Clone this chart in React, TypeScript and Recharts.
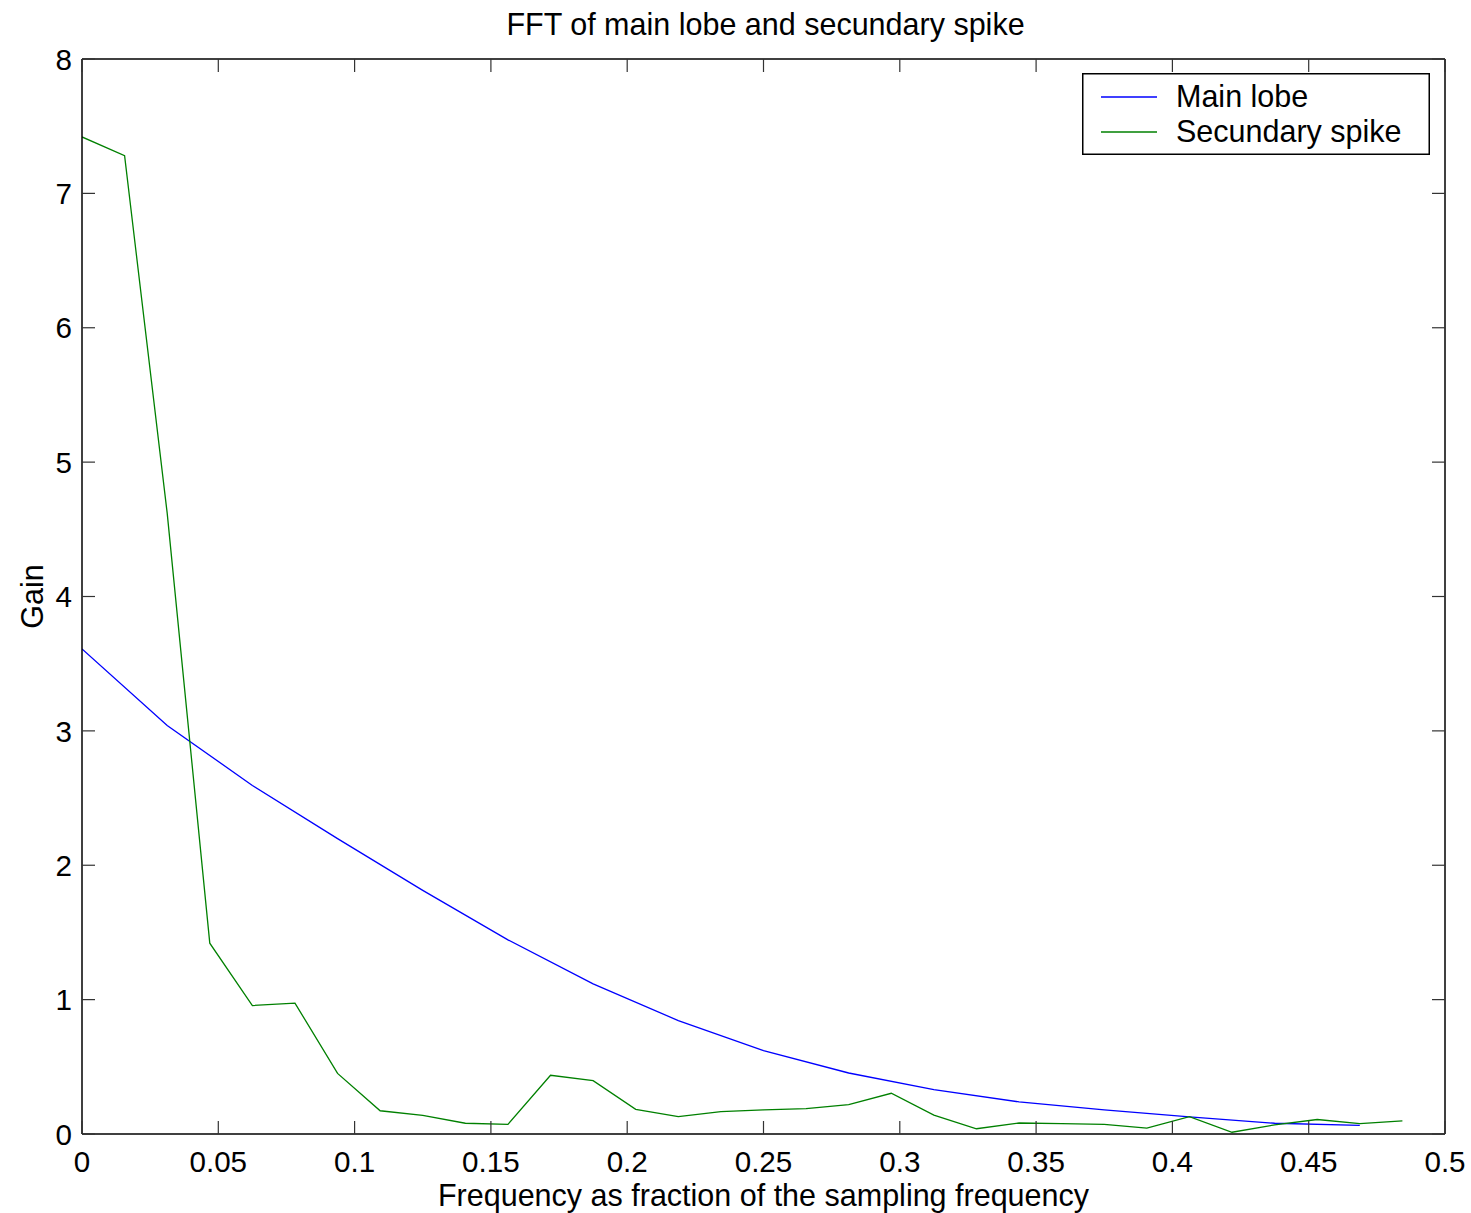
import { LineChart, Line, XAxis, YAxis, Legend } from "recharts";

/* Frequencies (fraction of the sampling frequency) */
const spikeFreq = [
  0, 0.015625, 0.03125, 0.046875, 0.0625, 0.078125, 0.09375, 0.109375,
  0.125, 0.140625, 0.15625, 0.171875, 0.1875, 0.203125, 0.21875, 0.234375,
  0.25, 0.265625, 0.28125, 0.296875, 0.3125, 0.328125, 0.34375, 0.359375,
  0.375, 0.390625, 0.40625, 0.421875, 0.4375, 0.453125, 0.46875, 0.484375,
];
const spikeGain = [
  7.42, 7.28, 4.62, 1.42, 0.956, 0.974, 0.451, 0.173,
  0.138, 0.08, 0.072, 0.437, 0.397, 0.184, 0.129, 0.166,
  0.179, 0.189, 0.218, 0.303, 0.14, 0.039, 0.082, 0.077,
  0.072, 0.044, 0.129, 0.013, 0.068, 0.108, 0.077, 0.098,
];

const mainFreq = [
  0, 0.03125, 0.0625, 0.09375, 0.125, 0.15625, 0.1875, 0.21875,
  0.25, 0.28125, 0.3125, 0.34375, 0.375, 0.40625, 0.4375, 0.46875,
];
const mainGain = [
  3.61, 3.04, 2.594, 2.198, 1.813, 1.445, 1.117, 0.844,
  0.621, 0.454, 0.33, 0.239, 0.18, 0.128, 0.08, 0.064,
];

const xTicks = [0, 0.05, 0.1, 0.15, 0.2, 0.25, 0.3, 0.35, 0.4, 0.45, 0.5];
const yTicks = [0, 1, 2, 3, 4, 5, 6, 7, 8];

const FONT = '"Liberation Sans", Arial, Helvetica, sans-serif';
const TICK_LEN = 13;
const TICK_COLOR = "#333";
const TICK_FONT = 29.6;
const LABEL_FONT = 30.5;

// merged table: main lobe only exists on every other frequency
const data = spikeFreq.map((f, i) => {
  const j = mainFreq.indexOf(f);
  return { freq: f, spike: spikeGain[i], main: j >= 0 ? mainGain[j] : null };
});

/* inward ticks, MATLAB style */
const BottomTick = ({ x, y, payload }: any) => (
  <g>
    <line x1={x} y1={y} x2={x} y2={y - TICK_LEN} stroke={TICK_COLOR} strokeWidth={1.2} />
    <text x={x} y={y + 38} textAnchor="middle" fontSize={TICK_FONT} fontFamily={FONT} fill="#000">
      {String(payload.value)}
    </text>
  </g>
);

const TopTick = ({ x, y }: any) => (
  <line x1={x} y1={y} x2={x} y2={y + TICK_LEN} stroke={TICK_COLOR} strokeWidth={1.2} />
);

const LeftTick = ({ x, y, payload }: any) => (
  <g>
    <line x1={x} y1={y} x2={x + TICK_LEN} y2={y} stroke={TICK_COLOR} strokeWidth={1.2} />
    <text x={x - 10} y={y} dy="0.36em" textAnchor="end" fontSize={TICK_FONT} fontFamily={FONT} fill="#000">
      {String(payload.value)}
    </text>
  </g>
);

const RightTick = ({ x, y }: any) => (
  <line x1={x} y1={y} x2={x - TICK_LEN} y2={y} stroke={TICK_COLOR} strokeWidth={1.2} />
);

/* legend box, top right corner */
const LegendBox = ({ payload }: any) => (
  <svg width={348} height={82} style={{ display: "block" }}>
    <rect x={0.75} y={0.75} width={346.5} height={80.5} fill="#fff" stroke="#000" strokeWidth={1.5} />
    {(payload || [])
      .filter((item: any) => item.type !== "none")
      .map((item: any, i: number) => (
        <g key={item.value}>
          <line x1={19} x2={75} y1={24 + i * 35} y2={24 + i * 35} stroke={item.color} strokeWidth={1.3} />
          <text x={94} y={34 + i * 35} fontSize={LABEL_FONT} fontFamily={FONT} fill="#000">
            {item.value}
          </text>
        </g>
      ))}
  </svg>
);

const axisLine = { stroke: "#000", strokeWidth: 1.5 };

export default function App() {
  return (
    <div style={{ position: "absolute", left: 0, top: 0, width: 1471, height: 1213, background: "#fff", fontFamily: FONT }}>
      <div
        style={{
          position: "absolute",
          left: 0,
          top: 9,
          width: 1531,
          textAlign: "center",
          fontSize: LABEL_FONT,
          lineHeight: "30px",
          color: "#000",
        }}
      >
        FFT of main lobe and secundary spike
      </div>
      <LineChart
        width={1471}
        height={1213}
        data={data}
        margin={{ top: 58, right: 25, bottom: 0, left: 22 }}
        style={{ fontFamily: FONT }}
      >
        <XAxis
          dataKey="freq"
          type="number"
          domain={[0, 0.5]}
          ticks={xTicks}
          interval={0}
          allowDataOverflow
          height={79}
          tickSize={0}
          tickMargin={0}
          tickLine={false}
          axisLine={axisLine}
          tick={BottomTick}
          label={({ viewBox }: any) => (
            <text
              x={viewBox.x + viewBox.width / 2}
              y={viewBox.y + 72}
              textAnchor="middle"
              fontSize={LABEL_FONT}
              fontFamily={FONT}
              fill="#000"
            >
              Frequency as fraction of the sampling frequency
            </text>
          )}
        />
        <XAxis
          xAxisId="top"
          orientation="top"
          dataKey="freq"
          type="number"
          domain={[0, 0.5]}
          ticks={xTicks}
          interval={0}
          allowDataOverflow
          height={1}
          tickSize={0}
          tickMargin={0}
          tickLine={false}
          axisLine={axisLine}
          tick={TopTick}
        />
        <YAxis
          type="number"
          domain={[0, 8]}
          ticks={yTicks}
          interval={0}
          allowDataOverflow
          width={60}
          tickSize={0}
          tickMargin={0}
          tickLine={false}
          axisLine={axisLine}
          tick={LeftTick}
          label={({ viewBox }: any) => {
            const cx = viewBox.x + 21;
            const cy = viewBox.y + viewBox.height / 2;
            return (
              <text
                x={cx}
                y={cy}
                transform={`rotate(-90 ${cx} ${cy})`}
                textAnchor="middle"
                fontSize={LABEL_FONT}
                fontFamily={FONT}
                fill="#000"
              >
                Gain
              </text>
            );
          }}
        />
        <YAxis
          yAxisId="right"
          orientation="right"
          type="number"
          domain={[0, 8]}
          ticks={yTicks}
          interval={0}
          allowDataOverflow
          width={1}
          tickSize={0}
          tickMargin={0}
          tickLine={false}
          axisLine={axisLine}
          tick={RightTick}
        />
        <Legend
          layout="vertical"
          align="center"
          verticalAlign="middle"
          content={LegendBox}
          wrapperStyle={{ left: 1082, top: 73, width: 348, height: 82 }}
        />
        {/* invisible series so the top / right frame axes get drawn */}
        <Line
          xAxisId="top"
          yAxisId="right"
          type="linear"
          dataKey="spike"
          stroke="none"
          dot={false}
          activeDot={false}
          legendType="none"
          isAnimationActive={false}
        />
        <Line
          type="linear"
          dataKey="main"
          name="Main lobe"
          stroke="#0000ff"
          strokeWidth={1.3}
          dot={false}
          activeDot={false}
          connectNulls
          isAnimationActive={false}
        />
        <Line
          type="linear"
          dataKey="spike"
          name="Secundary spike"
          stroke="#008000"
          strokeWidth={1.3}
          dot={false}
          activeDot={false}
          isAnimationActive={false}
        />
      </LineChart>
    </div>
  );
}
